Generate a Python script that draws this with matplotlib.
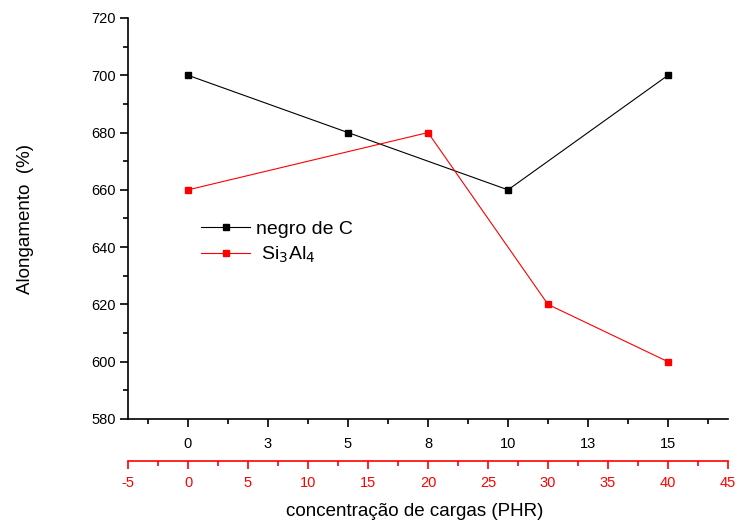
import matplotlib
matplotlib.use("Agg")
import matplotlib.pyplot as plt
from matplotlib.ticker import FixedLocator, FixedFormatter, MultipleLocator

plt.rcParams['font.family'] = ['Liberation Sans', 'DejaVu Sans']
plt.rcParams['axes.unicode_minus'] = False

# data
black_x = [0, 5, 10, 15]
black_y = [700, 680, 660, 700]
red_x = [0, 20, 30, 40]
red_y = [660, 680, 620, 600]
black_ticks = [0, 2.5, 5, 7.5, 10, 12.5, 15]
black_tick_labels = ['0', '3', '5', '8', '10', '13', '15']
red_ticks = [-5, 0, 5, 10, 15, 20, 25, 30, 35, 40, 45]

fig = plt.figure(figsize=(7.39, 5.28), dpi=100)
ax = fig.add_axes([128/739, 1-419/528, 600/739, 401/528])

l1, = ax.plot(black_x, black_y, color='black', lw=0.8, marker='s', ms=5, label='negro de C')
ax.set_xlim(-1.875, 16.875)
ax.set_ylim(580, 720)
ax.xaxis.set_major_locator(FixedLocator(black_ticks))
ax.xaxis.set_major_formatter(FixedFormatter(black_tick_labels))
ax.xaxis.set_minor_locator(MultipleLocator(1.25))
ax.yaxis.set_major_locator(MultipleLocator(20))
ax.yaxis.set_minor_locator(MultipleLocator(10))
for s in ['top', 'right']:
    ax.spines[s].set_visible(False)
ax.spines['left'].set_linewidth(1.2)
ax.spines['bottom'].set_linewidth(1.2)
ax.tick_params(axis='both', which='major', direction='out', length=6, width=1.2, labelsize=10.5, pad=3)
ax.tick_params(axis='both', which='minor', direction='out', length=3.5, width=1.2)
ax.tick_params(axis='x', pad=7)
ax.set_ylabel('Alongamento  (%)', fontsize=13.5, labelpad=41)

ax2 = ax.twiny()
l2, = ax2.plot(red_x, red_y, color='red', lw=0.8, marker='s', ms=5, label=' Si$_3$Al$_4$')
ax2.set_xlim(-5, 45)
ax2.xaxis.set_ticks_position('bottom')
ax2.xaxis.set_label_position('bottom')
ax2.spines['bottom'].set_position(('outward', 30.2))
ax2.spines['bottom'].set_color('red')
ax2.spines['bottom'].set_linewidth(1.2)
for s in ['top', 'right', 'left']:
    ax2.spines[s].set_visible(False)
ax2.xaxis.set_major_locator(FixedLocator(red_ticks))
ax2.xaxis.set_minor_locator(MultipleLocator(2.5))
ax2.tick_params(axis='x', which='major', direction='out', length=6, width=1.2, colors='red', labelsize=10.5, pad=5)
ax2.tick_params(axis='x', which='minor', direction='out', length=3.5, width=1.2, colors='red')
ax2.set_xlabel('concentração de cargas (PHR)', fontsize=13.5, color='black')
ax2.xaxis.set_label_coords(0.477, -0.21)

ax.legend([l1, l2], ['negro de C', ' Si$_3$Al$_4$'], loc='upper left', bbox_to_anchor=(0.093, 0.54),
          frameon=False, fontsize=14, handlelength=2.5, handletextpad=0.3, labelspacing=0.35)

fig.savefig('out.png', dpi=100)
